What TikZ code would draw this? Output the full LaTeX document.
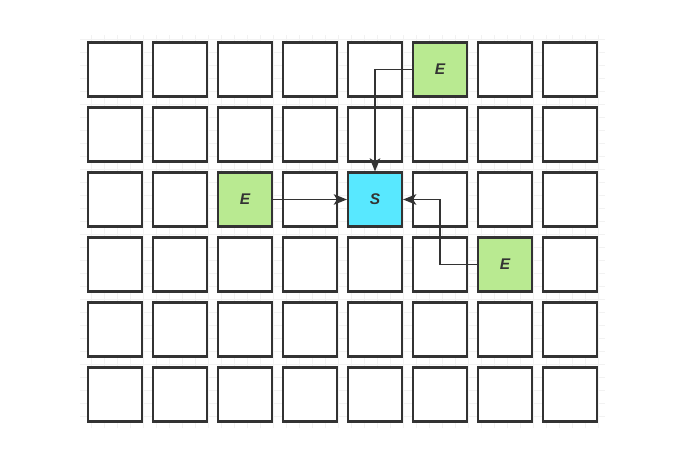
\documentclass[tikz,border=0pt]{standalone}
\usepackage{fontspec}
\setmainfont{Liberation Sans}
\usetikzlibrary{arrows.meta}
\definecolor{darkline}{HTML}{333333}
\definecolor{startfill}{RGB}{88,232,255}
\definecolor{endfill}{RGB}{185,234,145}
\tikzstyle{cell} = [rectangle, minimum width=1.08cm, minimum height=1.08cm, line width=1.2pt, draw=darkline, fill=white, text=darkline, font=\fontsize{8.8}{10}\selectfont\bfseries\itshape]
\tikzstyle{endcell} = [cell, fill=endfill]
\tikzstyle{startcell} = [cell, fill=startfill]
\tikzstyle{arrow} = [line width=1pt, draw=darkline, -{Stealth[length=7.5pt,width=6pt,inset=1.8pt]}]
\tikzstyle{canvas} = [line width=0.3pt, black!5]

\begin{document}
\begin{tikzpicture}
\useasboundingbox [fill=white] (0,0) rectangle (14,-9.24);
\draw [canvas, step=0.26cm] (1.6,-0.7) grid (12.1,-8.56);
% plain cells
\foreach \i in {0,...,7}
  \foreach \j in {0,...,5}
    \node (c-\i-\j) [cell] at ({2.3+1.3*\i},{-1.39-1.3*\j}) {};
% start and end cells
\node (e1) [endcell] at (c-5-0) {E};
\node (e2) [endcell] at (c-2-2) {E};
\node (e3) [endcell] at (c-6-3) {E};
\node (s) [startcell] at (c-4-2) {S};
\draw [arrow] (e1.west) -| (s.north);
\draw [arrow] (e2.east) -- (s.west);
\draw [arrow] (e3.west) -- ++(-0.74,0) |- (s.east);
\end{tikzpicture}
\end{document}
